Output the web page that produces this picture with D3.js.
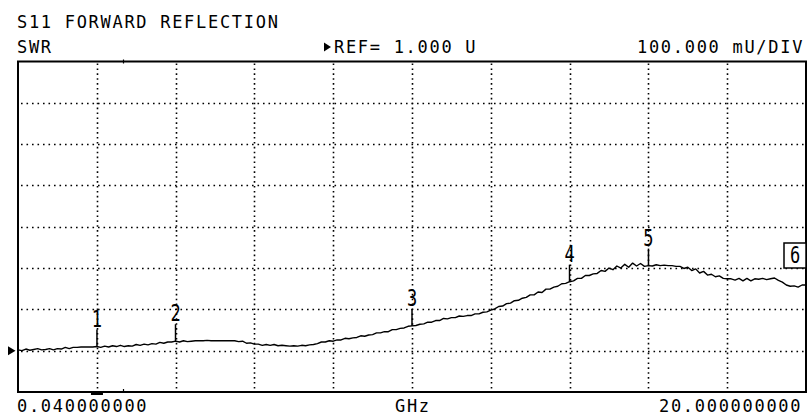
<!DOCTYPE html>
<html>
<head>
<meta charset="utf-8">
<script src="https://cdn.jsdelivr.net/npm/d3@7"></script>
<style>
html, body { margin: 0; padding: 0; background: #fff; }
svg { display: block; }
text { font-family: "DejaVu Sans Mono", monospace; font-size: 17px; letter-spacing: 1.7px; fill: #000; }
</style>
</head>
<body>
<svg id="chart" width="808" height="416"></svg>
<script>
// header / footer annotation text
var titleText = 'S11 FORWARD REFLECTION'
var formatText = 'SWR'
var refText = 'REF= 1.000 U'
var scaleText = '100.000 mU/DIV'
var startText = '0.040000000'
var unitText = 'GHz'
var stopText = '20.000000000'

// sweep (GHz) and display scale
var sweepStart = 0.04, sweepStop = 20
var refValue = 1.0, perDiv = 0.1
var xDivs = 10, yDivs = 8, refDiv = 1   // ref line sits one division above the bottom

// measured SWR trace, 201 sweep points
var swr = [
  1.002, 1.000, 1.004, 1.001, 1.003, 1.005, 1.002, 1.003, 1.005, 1.002,
  1.005, 1.004, 1.008, 1.005, 1.008, 1.008, 1.009, 1.009, 1.009, 1.009,
  1.010, 1.008, 1.011, 1.009, 1.012, 1.010, 1.013, 1.010, 1.012, 1.011,
  1.015, 1.013, 1.016, 1.014, 1.017, 1.016, 1.020, 1.018, 1.021, 1.021,
  1.023, 1.021, 1.024, 1.022, 1.023, 1.024, 1.024, 1.024, 1.025, 1.024,
  1.024, 1.024, 1.024, 1.024, 1.024, 1.024, 1.022, 1.023, 1.018, 1.019,
  1.016, 1.016, 1.013, 1.015, 1.013, 1.015, 1.012, 1.013, 1.012, 1.011,
  1.012, 1.011, 1.013, 1.012, 1.014, 1.015, 1.017, 1.021, 1.021, 1.024,
  1.023, 1.026, 1.026, 1.030, 1.029, 1.031, 1.032, 1.036, 1.035, 1.038,
  1.039, 1.043, 1.043, 1.046, 1.046, 1.051, 1.051, 1.054, 1.055, 1.059,
  1.060, 1.061, 1.064, 1.065, 1.069, 1.069, 1.073, 1.073, 1.078, 1.077,
  1.080, 1.080, 1.084, 1.083, 1.085, 1.085, 1.089, 1.089, 1.093, 1.094,
  1.098, 1.101, 1.107, 1.108, 1.114, 1.115, 1.121, 1.122, 1.127, 1.129,
  1.135, 1.135, 1.142, 1.141, 1.149, 1.149, 1.154, 1.156, 1.162, 1.163,
  1.167, 1.169, 1.175, 1.175, 1.182, 1.182, 1.186, 1.187, 1.194, 1.192,
  1.200, 1.196, 1.205, 1.200, 1.209, 1.202, 1.212, 1.205, 1.211, 1.204,
  1.206, 1.205, 1.208, 1.206, 1.207, 1.206, 1.206, 1.204, 1.204, 1.199,
  1.202, 1.194, 1.198, 1.188, 1.192, 1.183, 1.185, 1.179, 1.181, 1.175,
  1.174, 1.174, 1.171, 1.175, 1.169, 1.175, 1.169, 1.174, 1.173, 1.175,
  1.172, 1.174, 1.176, 1.170, 1.166, 1.159, 1.156, 1.157, 1.154, 1.159,
  1.159
]

// markers (GHz)
var markerFreqs = [2.04, 4.03, 10.02, 14.01, 16.01, 20.0]
var markerNames = ['1', '2', '3', '4', '5', '6']

var svg = d3.select('#chart')
var plotLeft = 18, plotRight = 806, plotTop = 61.5, plotBottom = 392

var x = d3.scaleLinear().domain([sweepStart, sweepStop]).range([plotLeft, plotRight])
var yMin = refValue - refDiv * perDiv
var y = d3.scaleLinear().domain([yMin, yMin + yDivs * perDiv]).range([plotBottom, plotTop])
var idxToFreq = d3.scaleLinear().domain([0, swr.length - 1]).range([sweepStart, sweepStop])

// dotted graticule
var xGrid = d3.range(1, xDivs).map(function(i) { return sweepStart + i * (sweepStop - sweepStart) / xDivs })
var yGrid = d3.range(1, yDivs).map(function(i) { return yMin + i * perDiv })

svg.append('g').selectAll('line').data(yGrid).enter().append('line')
  .attr('x1', plotLeft + 3).attr('x2', plotRight)
  .attr('y1', function(d) { return Math.round(y(d)) + 0.5 })
  .attr('y2', function(d) { return Math.round(y(d)) + 0.5 })
  .attr('stroke', '#000').attr('stroke-width', 1.6)
  .attr('stroke-dasharray', '1.6 3.9')

svg.append('g').selectAll('line').data(xGrid).enter().append('line')
  .attr('x1', function(d) { return Math.round(x(d)) + 0.5 })
  .attr('x2', function(d) { return Math.round(x(d)) + 0.5 })
  .attr('y1', plotTop + 2).attr('y2', plotBottom)
  .attr('stroke', '#000').attr('stroke-width', 1.6)
  .attr('stroke-dasharray', '1.6 3.3')

// frame
svg.append('rect')
  .attr('x', plotLeft).attr('y', plotTop)
  .attr('width', plotRight - plotLeft).attr('height', plotBottom - plotTop)
  .attr('fill', 'none').attr('stroke', '#000').attr('stroke-width', 2)

// small frame ticks and active marker bar
svg.append('line').attr('x1', 123.5).attr('x2', 123.5).attr('y1', plotTop - 2).attr('y2', plotTop + 2)
  .attr('stroke', '#000').attr('stroke-width', 1.2)
svg.append('line').attr('x1', 123.5).attr('x2', 123.5).attr('y1', plotBottom - 3).attr('y2', plotBottom)
  .attr('stroke', '#000').attr('stroke-width', 1.2)
svg.append('rect').attr('x', x(markerFreqs[0]) - 6).attr('y', plotBottom).attr('width', 12).attr('height', 3)
  .attr('fill', '#000')

// reference arrow
var yr = y(refValue)
svg.append('path')
  .attr('d', 'M8,' + (yr - 4.5) + 'L15.5,' + yr + 'L8,' + (yr + 4.5) + 'Z')
  .attr('fill', '#000')

// trace
var line = d3.line()
  .x(function(d, i) { return x(idxToFreq(i)) })
  .y(function(d) { return y(d) })
svg.append('path').datum(swr)
  .attr('d', line)
  .attr('fill', 'none').attr('stroke', '#000').attr('stroke-width', 1.4)
  .attr('stroke-linejoin', 'round')

// markers
function markerValue(f) {
  return swr[Math.round(idxToFreq.invert(f))]
}
var mk = svg.append('g')
markerFreqs.forEach(function(f, i) {
  var v = markerValue(f)
  var mx = x(f), my = y(v)
  if (i == markerFreqs.length - 1) {
    // marker at the stop frequency drawn as a boxed label
    mk.append('rect').attr('x', plotRight - 22).attr('y', my - 42).attr('width', 22).attr('height', 25)
      .attr('fill', '#fff').attr('stroke', '#000').attr('stroke-width', 1.5)
    mk.append('text')
      .attr('transform', 'translate(' + (plotRight - 11) + ',' + (my - 22) + ') scale(1,1.3)')
      .attr('text-anchor', 'middle').style('letter-spacing', '0px')
      .text(markerNames[i])
    return
  }
  mk.append('line').attr('x1', mx).attr('x2', mx).attr('y1', my).attr('y2', my - 17)
    .attr('stroke', '#000').attr('stroke-width', 1.5)
  mk.append('text')
    .attr('transform', 'translate(' + mx + ',' + (my - 20) + ') scale(1,1.3)')
    .attr('text-anchor', 'middle').style('letter-spacing', '0px')
    .text(markerNames[i])
})

// annotation text
svg.append('text').attr('x', 17).attr('y', 28).text(titleText)
svg.append('text').attr('x', 17).attr('y', 53).text(formatText)
svg.append('path').attr('d', 'M324,42.5L331,47L324,51.5Z').attr('fill', '#000')
svg.append('text').attr('x', 334).attr('y', 53).text(refText)
svg.append('text').attr('x', 637).attr('y', 53).text(scaleText)
svg.append('text').attr('x', 17).attr('y', 412).text(startText)
svg.append('text').attr('x', 395).attr('y', 412).text(unitText)
svg.append('text').attr('x', 659).attr('y', 412).text(stopText)
</script>
</body>
</html>
